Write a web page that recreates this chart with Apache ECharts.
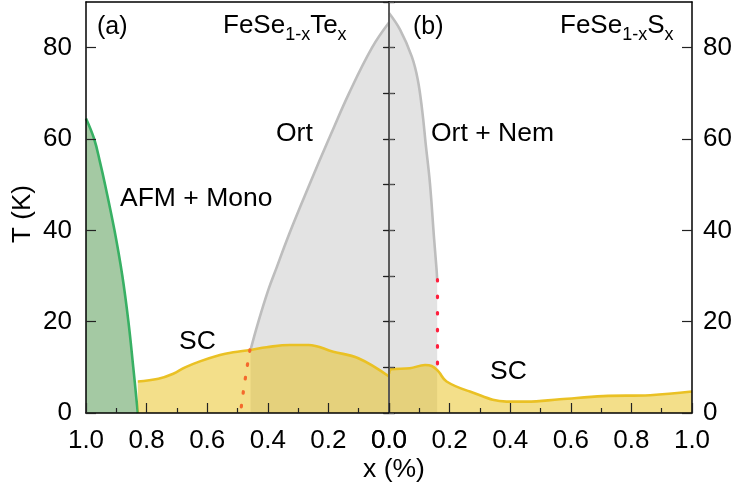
<!DOCTYPE html>
<html>
<head>
<meta charset="utf-8">
<script src="https://cdn.jsdelivr.net/npm/echarts@6/dist/echarts.min.js"></script>
<style>html,body{margin:0;padding:0;background:#fff}#c{width:735px;height:491px}</style>
</head>
<body>
<div id="c"></div>
<script>
// ---- data (x, T in K) ----
// Panel (a) FeSe1-xTe_x (x axis runs 1.0 -> 0.0)
const afmX = [1.0, 0.973, 0.954, 0.937, 0.906, 0.880, 0.860, 0.844, 0.829];
const afmT = [64.5, 60, 55, 50, 40, 30, 20, 10, 0];
const ortTeX = [0.457, 0.431, 0.398, 0.370, 0.337, 0.294, 0.231, 0.190, 0.132, 0.056, 0.0];
const ortTeT = [13.8, 20, 27, 32, 37.9, 45, 55, 61.3, 70, 80, 85.5];
const scTeX = [0.829, 0.761, 0.712, 0.673, 0.624, 0.558, 0.514, 0.459, 0.404, 0.327, 0.266, 0.184, 0.101, 0.0];
const scTeT = [6.9, 7.5, 8.6, 10.0, 11.3, 12.7, 13.3, 13.8, 14.4, 14.9, 14.9, 13.4, 12.0, 8.0];
const ortTeDotX = [0.459, 0.470, 0.483, 0.490];
const ortTeDotT = [13.8, 9.4, 3.6, 0];
// Panel (b) FeSe1-xS_x
const ortSX = [0.0, 0.036, 0.075, 0.095, 0.110, 0.121, 0.135, 0.149, 0.157, 0.159];
const ortST = [87.6, 84, 78.1, 73, 66, 59, 50.4, 38, 31.4, 29.2];
const scSX = [0.0, 0.008, 0.069, 0.119, 0.141, 0.163, 0.190, 0.267, 0.388, 0.454, 0.564, 0.707, 0.862, 1.0];
const scST = [8.6, 9.6, 9.8, 10.5, 10.3, 9.1, 6.9, 4.7, 2.5, 2.5, 3.0, 3.7, 3.9, 4.7];
const nemDotX = [0.160, 0.160];
const nemDotT = [29.2, 10.3];
// axes
const xMin = 0, xMax = 1, xStep = 0.2;
const tMin = 0, tMax = 90, tStep = 20, tMinorStep = 10;

const pairs = (xs, ys) => xs.map((x, i) => [x, ys[i]]);

const FONT = '"Liberation Sans", Arial, sans-serif';
const chart = echarts.init(document.getElementById('c'), null, {renderer: 'canvas'});

const G1 = {left: 86, top: 2, width: 303, height: 411};
const G2 = {left: 389, top: 2, width: 303, height: 411};

function xBottom(grid, inverse) {
  return {
    gridIndex: grid, type: 'value', position: 'bottom', min: xMin, max: xMax, interval: xStep, inverse: inverse, z: 10,
    axisLine: {show: true, onZero: false, lineStyle: {color: '#000', width: 1.5}},
    axisTick: {show: true, inside: true, length: 10, lineStyle: {color: '#222', width: 1.2}},
    minorTick: {show: true, splitNumber: 2, length: 5, lineStyle: {color: '#222', width: 1.2}},
    axisLabel: {show: true, margin: 15, fontSize: 26, color: '#000', fontFamily: FONT, formatter: v => v.toFixed(1)},
    splitLine: {show: false}
  };
}
function xTop(grid) {
  return {
    gridIndex: grid, type: 'value', position: 'top', min: xMin, max: xMax, z: 10,
    axisLine: {show: true, onZero: false, lineStyle: {color: '#000', width: 1.5}},
    axisTick: {show: false}, axisLabel: {show: false}, splitLine: {show: false}
  };
}
function yAx(grid, pos, opts) {
  return Object.assign({
    gridIndex: grid, type: 'value', position: pos, min: tMin, max: tMax, z: 10,
    splitLine: {show: false}
  }, opts);
}

const yAxes = [
  // grid 0
  yAx(0, 'left', {interval: tStep,
    axisLine: {show: true, onZero: false, lineStyle: {color: '#000', width: 1.5}},
    axisTick: {show: true, inside: true, length: 10, lineStyle: {color: '#222', width: 1.2}},
    axisLabel: {show: true, margin: 14, fontSize: 26, color: '#000', fontFamily: FONT, showMaxLabel: false}}),
  yAx(0, 'left', {interval: tMinorStep,
    axisLine: {show: false},
    axisTick: {show: true, inside: true, length: 6, lineStyle: {color: '#222', width: 1.2}},
    axisLabel: {show: false}}),
  yAx(0, 'right', {interval: tMinorStep,
    axisLine: {show: true, onZero: false, lineStyle: {color: '#555', width: 1.6}},
    axisTick: {show: true, inside: true, length: 5, lineStyle: {color: '#555', width: 1.2}},
    axisLabel: {show: false}}),
  // grid 1
  yAx(1, 'left', {interval: tMinorStep,
    axisLine: {show: true, onZero: false, lineStyle: {color: '#555', width: 1.6}},
    axisTick: {show: true, inside: true, length: 5, lineStyle: {color: '#555', width: 1.2}},
    axisLabel: {show: false}}),
  yAx(1, 'right', {interval: tStep,
    axisLine: {show: true, onZero: false, lineStyle: {color: '#000', width: 1.5}},
    axisTick: {show: true, inside: true, length: 10, lineStyle: {color: '#222', width: 1.2}},
    axisLabel: {show: true, margin: 11, fontSize: 26, color: '#000', fontFamily: FONT, showMaxLabel: false}}),
  yAx(1, 'right', {interval: tMinorStep,
    axisLine: {show: false},
    axisTick: {show: true, inside: true, length: 6, lineStyle: {color: '#222', width: 1.2}},
    axisLabel: {show: false}})
];

const GRAY_FILL = '#e3e3e3', GRAY_LINE = '#bdbdbd';
const YEL_FILL = 'rgba(231,191,22,0.5)', YEL_LINE = '#eac124';
const GRN_FILL = '#a4c9a3', GRN_LINE = '#38b064';

function area(name, xi, yi, data, fill, line, z, smooth) {
  return {
    name, type: 'line', xAxisIndex: xi, yAxisIndex: yi, data, showSymbol: false, symbol: 'none',
    smooth: smooth, z: z, animation: false,
    lineStyle: {color: line, width: 2.6},
    areaStyle: {color: fill, opacity: 1}
  };
}
function dotted(name, xi, yi, data, color, dash) {
  return {
    name, type: 'line', xAxisIndex: xi, yAxisIndex: yi, data, showSymbol: false, symbol: 'none',
    smooth: 0.3, z: 6, animation: false,
    lineStyle: {color: color, width: 3.2, type: dash, cap: 'round'}
  };
}

const series = [
  area('Ort (Te)', 0, 0, pairs(ortTeX, ortTeT), GRAY_FILL, GRAY_LINE, 2, 0.4),
  area('AFM + Mono', 0, 0, pairs(afmX, afmT), GRN_FILL, GRN_LINE, 3, 0.4),
  area('SC (Te)', 0, 0, pairs(scTeX, scTeT), YEL_FILL, YEL_LINE, 4, 0.4),
  dotted('Te boundary', 0, 0, pairs(ortTeDotX, ortTeDotT), '#f4692c', [1.5, 12.5]),
  area('Ort + Nem', 2, 3, pairs(ortSX, ortST), GRAY_FILL, GRAY_LINE, 2, 0.4),
  area('SC (S)', 2, 3, pairs(scSX, scST), YEL_FILL, YEL_LINE, 4, 0.4),
  dotted('Nem boundary', 2, 3, pairs(nemDotX, nemDotT), '#ff1f3d', [1.5, 15])
];

// text helpers
const mctx = document.createElement('canvas').getContext('2d');
function w(text, size) { mctx.font = size + 'px ' + FONT; return mctx.measureText(text).width; }
function txt(x, baseline, text, size, extra) {
  return Object.assign({type: 'text', z: 20, style: {x: x, y: baseline - 0.35 * size, text: text,
    fontSize: size, fontFamily: FONT, fill: '#000', align: 'left', verticalAlign: 'middle'}}, extra || {});
}
function runs(x, baseline, parts) {
  const out = [];
  let cx = x;
  parts.forEach(p => {
    const [t, size, drop] = p;
    out.push(txt(cx, baseline + drop, t, size));
    cx += w(t, size);
  });
  return out;
}

const graphics = [].concat(
  [txt(97, 36, '(a)', 25)],
  runs(223, 35, [['FeSe', 26, 0], ['1-x', 18, 6], ['Te', 26, 0], ['x', 18, 6]]),
  [txt(413, 36, '(b)', 25)],
  runs(560, 35, [['FeSe', 26, 0], ['1-x', 18, 6], ['S', 26, 0], ['x', 18, 6]]),
  [txt(276, 143, 'Ort', 26.5)],
  [txt(120, 208, 'AFM + Mono', 26.5)],
  [txt(179, 350.5, 'SC', 26.5)],
  [txt(431, 142.5, 'Ort + Nem', 26.5)],
  [txt(490, 381, 'SC', 26.5)],
  [{type: 'text', z: 20, style: {x: 394, y: 470, text: 'x (%)', fontSize: 26.5, fontFamily: FONT, fill: '#000', align: 'center', verticalAlign: 'middle'}}],
  [{type: 'text', z: 20, x: 23, y: 214, rotation: Math.PI / 2, style: {x: 0, y: 0, text: 'T (K)', fontSize: 26, fontFamily: FONT, fill: '#000', align: 'center', verticalAlign: 'middle'}}]
);

chart.setOption({
  animation: false,
  backgroundColor: '#fff',
  grid: [Object.assign({containLabel: false}, G1), Object.assign({containLabel: false}, G2)],
  xAxis: [xBottom(0, true), xTop(0), xBottom(1, false), xTop(1)],
  yAxis: yAxes,
  series: series,
  graphic: graphics
});
</script>
</body>
</html>
